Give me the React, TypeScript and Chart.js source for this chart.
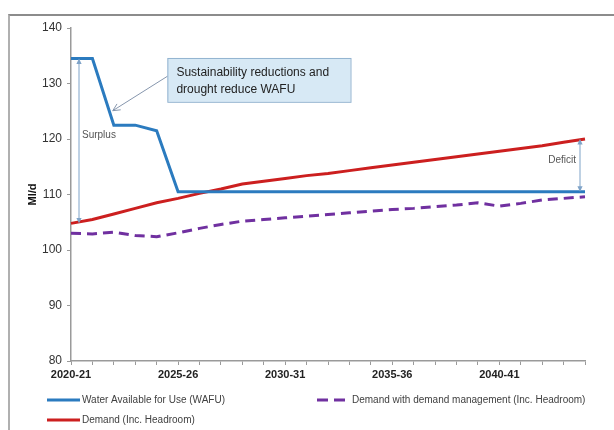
import React, { useEffect, useRef } from 'react';
import { Chart, registerables } from 'chart.js';

Chart.register(...registerables);

const years = [
  '2020-21', '2021-22', '2022-23', '2023-24', '2024-25', '2025-26', '2026-27', '2027-28', '2028-29',
  '2029-30', '2030-31', '2031-32', '2032-33', '2033-34', '2034-35', '2035-36', '2036-37', '2037-38',
  '2038-39', '2039-40', '2040-41', '2041-42', '2042-43', '2043-44', '2044-45',
];
const labeledYears = ['2020-21', '2025-26', '2030-31', '2035-36', '2040-41'];

const wafu = [
  134.5, 134.5, 122.5, 122.5, 121.5, 110.5, 110.5, 110.5, 110.5, 110.5, 110.5, 110.5, 110.5,
  110.5, 110.5, 110.5, 110.5, 110.5, 110.5, 110.5, 110.5, 110.5, 110.5, 110.5, 110.5,
];
const demand = [
  104.8, 105.5, 106.5, 107.5, 108.5, 109.3, 110.2, 111.0, 111.9, 112.4, 112.9, 113.4, 113.8,
  114.3, 114.8, 115.3, 115.8, 116.3, 116.8, 117.3, 117.8, 118.3, 118.8, 119.4, 120.0,
];
const demandMgmt = [
  103.0, 102.9, 103.2, 102.6, 102.4, 103.1, 103.9, 104.6, 105.2, 105.5, 105.8, 106.1, 106.4,
  106.7, 107.0, 107.3, 107.5, 107.8, 108.1, 108.5, 107.9, 108.4, 109.0, 109.3, 109.6,
];

const seriesNames = [
  'Water Available for Use (WAFU)',
  'Demand (Inc. Headroom)',
  'Demand with demand management (Inc. Headroom)',
];
const calloutLines = ['Sustainability reductions and', 'drought reduce WAFU'];
const yTitle = 'Ml/d';

const BLUE = '#2b7bbf';
const RED = '#cc1f1f';
const PURPLE = '#7030a0';
const FONT = "'Liberation Sans', Arial, sans-serif";
const ARROW = '#7fa3c8';

function head(ctx: CanvasRenderingContext2D, x: number, y: number, ang: number, size: number, filled: boolean) {
  ctx.beginPath();
  ctx.moveTo(x - size * Math.cos(ang - 0.45), y - size * Math.sin(ang - 0.45));
  ctx.lineTo(x, y);
  ctx.lineTo(x - size * Math.cos(ang + 0.45), y - size * Math.sin(ang + 0.45));
  if (filled) {
    ctx.closePath();
    ctx.fill();
  } else {
    ctx.stroke();
  }
}

function dblArrow(ctx: CanvasRenderingContext2D, x: number, y1: number, y2: number) {
  ctx.save();
  ctx.strokeStyle = ARROW;
  ctx.fillStyle = ARROW;
  ctx.lineWidth = 1;
  ctx.beginPath();
  ctx.moveTo(x, y1 + 2);
  ctx.lineTo(x, y2 - 2);
  ctx.stroke();
  head(ctx, x, y1, -Math.PI / 2, 6, true);
  head(ctx, x, y2, Math.PI / 2, 6, true);
  ctx.restore();
}

const annotPlugin = {
  id: 'annot',
  afterDatasetsDraw(chart: any) {
    const ctx: CanvasRenderingContext2D = chart.ctx;
    const xs = chart.scales.x;
    const ys = chart.scales.y;
    const n = years.length - 1;

    // Surplus arrow
    const sx = xs.getPixelForValue(0) + 8;
    dblArrow(ctx, sx, ys.getPixelForValue(wafu[0]), ys.getPixelForValue(demand[0]));
    // Deficit arrow
    const dx = xs.getPixelForValue(n) - 5;
    dblArrow(ctx, dx, ys.getPixelForValue(demand[n]), ys.getPixelForValue(wafu[n]));

    ctx.save();
    ctx.fillStyle = '#555';
    ctx.font = `10px ${FONT}`;
    ctx.textBaseline = 'middle';
    ctx.textAlign = 'left';
    ctx.fillText('Surplus', sx + 3, ys.getPixelForValue(120.6));
    ctx.textAlign = 'right';
    ctx.fillText('Deficit', dx - 4, ys.getPixelForValue(116.2));
    ctx.restore();

    // Callout box
    const bx1 = xs.getPixelForValue(4.5);
    const bx2 = xs.getPixelForValue(13.05);
    const by1 = ys.getPixelForValue(134.6);
    const by2 = ys.getPixelForValue(126.7);
    ctx.save();
    ctx.fillStyle = '#d7e9f5';
    ctx.strokeStyle = '#93b3d0';
    ctx.lineWidth = 1;
    ctx.fillRect(bx1, by1, bx2 - bx1, by2 - by1);
    ctx.strokeRect(bx1 + 0.5, by1 + 0.5, bx2 - bx1, by2 - by1);
    ctx.fillStyle = '#222';
    ctx.font = `12px ${FONT}`;
    ctx.textBaseline = 'middle';
    ctx.textAlign = 'left';
    ctx.fillText(calloutLines[0], bx1 + 9, by1 + 15);
    ctx.fillText(calloutLines[1], bx1 + 9, by1 + 32);
    // callout arrow
    const ax1 = bx1;
    const ay1 = ys.getPixelForValue(131.3);
    const ax2 = xs.getPixelForValue(1.95);
    const ay2 = ys.getPixelForValue(125.1);
    ctx.strokeStyle = '#8696ad';
    ctx.lineWidth = 1;
    ctx.beginPath();
    ctx.moveTo(ax1, ay1);
    ctx.lineTo(ax2, ay2);
    ctx.stroke();
    head(ctx, ax2, ay2, Math.atan2(ay2 - ay1, ax2 - ax1), 8, false);
    ctx.restore();
  },
  afterDraw(chart: any) {
    const ctx: CanvasRenderingContext2D = chart.ctx;
    ctx.save();
    ctx.font = `10px ${FONT}`;
    ctx.textBaseline = 'middle';
    ctx.textAlign = 'left';
    const items = [
      { color: BLUE, dash: [] as number[], x: 47, y: 400, w: 33, tx: 82, text: seriesNames[0] },
      { color: PURPLE, dash: [11, 6], x: 317, y: 400, w: 28, tx: 352, text: seriesNames[2] },
      { color: RED, dash: [] as number[], x: 47, y: 420, w: 33, tx: 82, text: seriesNames[1] },
    ];
    for (const it of items) {
      ctx.strokeStyle = it.color;
      ctx.lineWidth = 3;
      ctx.setLineDash(it.dash);
      ctx.beginPath();
      ctx.moveTo(it.x, it.y);
      ctx.lineTo(it.x + it.w, it.y);
      ctx.stroke();
      ctx.setLineDash([]);
      ctx.fillStyle = '#404040';
      ctx.fillText(it.text, it.tx, it.y);
    }
    ctx.restore();
  },
};

export default function App() {
  const ref = useRef<HTMLCanvasElement>(null);
  useEffect(() => {
    if (!ref.current) return;
    const chart = new Chart(ref.current, {
      type: 'line',
      data: {
        labels: years,
        datasets: [
          {
            label: seriesNames[0],
            data: wafu,
            borderColor: BLUE,
            borderWidth: 3,
            pointRadius: 0,
            tension: 0,
          },
          {
            label: seriesNames[1],
            data: demand,
            borderColor: RED,
            borderWidth: 3,
            pointRadius: 0,
            tension: 0,
          },
          {
            label: seriesNames[2],
            data: demandMgmt,
            borderColor: PURPLE,
            borderWidth: 3,
            borderDash: [10, 6],
            pointRadius: 0,
            tension: 0,
          },
        ],
      },
      options: {
        animation: false,
        responsive: false,
        layout: { padding: { left: 0, top: 28, right: 29, bottom: 0 } },
        plugins: { legend: { display: false }, tooltip: { enabled: false } },
        scales: {
          x: {
            type: 'category',
            offset: false,
            grid: { drawOnChartArea: false, tickLength: 4, color: '#9a9a9a' },
            border: { color: '#9a9a9a', width: 1.5 },
            ticks: {
              autoSkip: false,
              maxRotation: 0,
              padding: 3,
              color: '#222',
              font: { family: FONT, size: 11, weight: 'bold' },
              callback: (_v: any, i: number) => (labeledYears.includes(years[i]) ? years[i] : ''),
            },
            afterFit: (s: any) => {
              s.height = 69;
            },
          },
          y: {
            min: 80,
            max: 140,
            grid: { drawOnChartArea: false, tickLength: 4, color: '#9a9a9a' },
            border: { color: '#9a9a9a', width: 1.5 },
            ticks: {
              stepSize: 10,
              padding: 5,
              color: '#333',
              font: { family: FONT, size: 12 },
            },
            title: {
              display: true,
              text: yTitle,
              color: '#111',
              font: { family: FONT, size: 11, weight: 'bold' },
              padding: { top: 26, bottom: 0 },
            },
            afterFit: (s: any) => {
              s.width = 71;
            },
          },
        },
      },
      plugins: [annotPlugin],
    });
    return () => chart.destroy();
  }, []);

  return (
    <div style={{ position: 'fixed', left: 0, top: 0, width: 614, height: 430, background: '#fff', overflow: 'hidden' }}>
      <div
        style={{
          position: 'absolute',
          left: 8,
          top: 14,
          width: 700,
          height: 500,
          borderTop: '2px solid #8c8c8c',
          borderLeft: '2px solid #b0b0b0',
        }}
      />
      <canvas ref={ref} width={614} height={430} style={{ position: 'absolute', left: 0, top: 0, width: 614, height: 430 }} />
    </div>
  );
}
